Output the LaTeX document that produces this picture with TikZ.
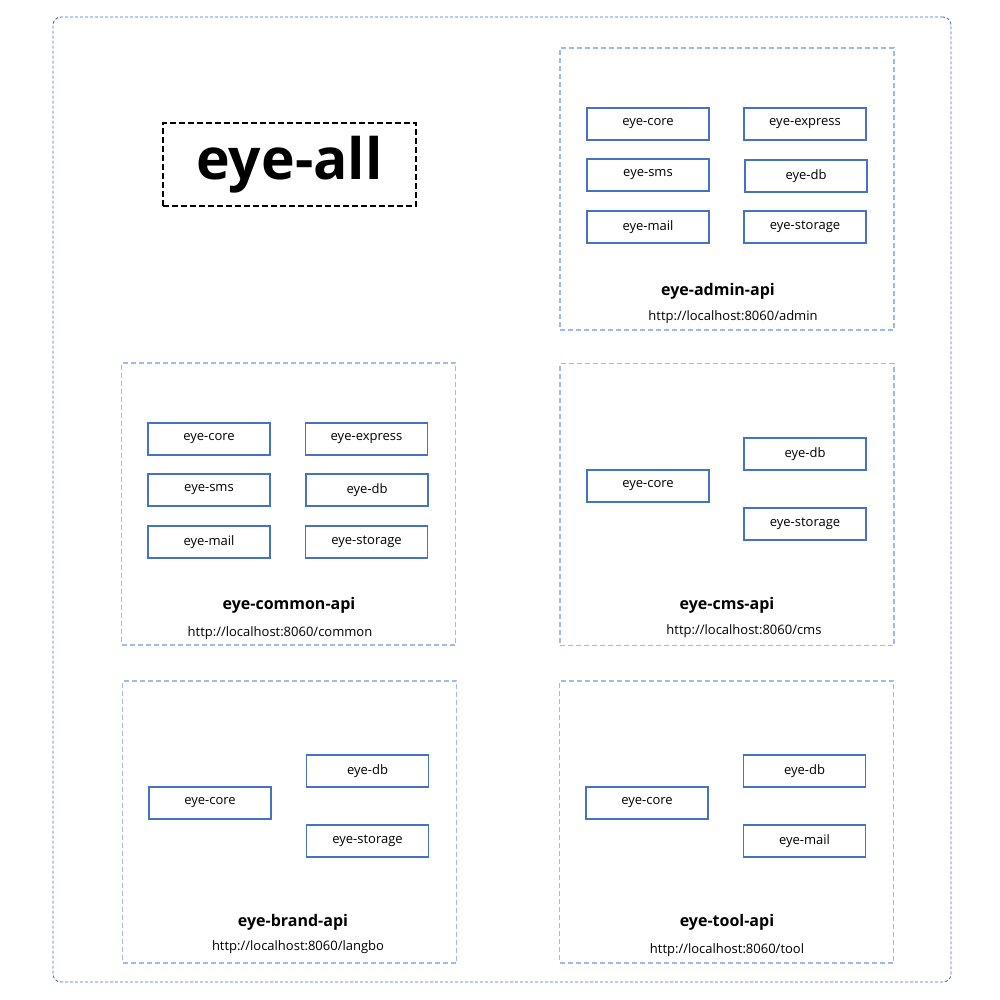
\documentclass[tikz,border=0pt]{standalone}
\usepackage{fontspec}
\setmainfont{Open Sans}
\usepackage{xcolor}
\definecolor{modblue}{HTML}{4472C4}
\definecolor{apiblue}{HTML}{9DBAEA}

\tikzset{
  mod/.style={draw=modblue,line width=1.6pt,minimum width=122pt,minimum height=32pt,inner sep=0pt,font=\fontsize{13}{15}\selectfont},
  api/.style={draw=apiblue,line width=1.4pt,dash pattern=on 5pt off 3pt,minimum width=334pt,minimum height=282pt,inner sep=0pt},
  apiname/.style={font=\fontsize{16}{19}\selectfont\bfseries},
  apiurl/.style={font=\fontsize{13}{15}\selectfont}
}

\begin{document}
\begin{tikzpicture}[x=1pt,y=-1pt]
    \useasboundingbox (0,0) rectangle (1000,1000);
    \node[draw=modblue,line width=0.9pt,dash pattern=on 3pt off 2pt,rounded corners=8pt,minimum width=898pt,minimum height=965pt,inner sep=0pt] (all) at (502,499.5) {};
    \node[draw,line width=1.5pt,dash pattern=on 6pt off 3pt,minimum width=253pt,minimum height=83pt,font=\fontsize{57}{60}\selectfont\bfseries] (title) at (289.5,164.5) {eye-all};

    \node[api] (admin) at (727,189) {};
    \node[mod] (adminCore) at (648,124) {eye-core};
    \node[mod] (adminExpress) at (805,124) {eye-express};
    \node[mod] (adminSms) at (648,175) {eye-sms};
    \node[mod] (adminDb) at (806,176) {eye-db};
    \node[mod] (adminMail) at (648,227) {eye-mail};
    \node[mod] (adminStorage) at (805,227) {eye-storage};
    \node[apiname] (adminName) at (718,291) {eye-admin-api};
    \node[apiurl] (adminUrl) at (733,317) {http://localhost:8060/admin};

    \node[api] (common) at (288.5,504) {};
    \node[mod] (commonCore) at (209,439) {eye-core};
    \node[mod] (commonExpress) at (366.5,439) {eye-express};
    \node[mod] (commonSms) at (209,490) {eye-sms};
    \node[mod] (commonDb) at (367,490) {eye-db};
    \node[mod] (commonMail) at (209,542) {eye-mail};
    \node[mod] (commonStorage) at (366.5,542) {eye-storage};
    \node[apiname] (commonName) at (289,605) {eye-common-api};
    \node[apiurl] (commonUrl) at (280,633) {http://localhost:8060/common};

    \node[api] (cms) at (727,504.5) {};
    \node[mod] (cmsCore) at (648,486) {eye-core};
    \node[mod] (cmsDb) at (805,454) {eye-db};
    \node[mod] (cmsStorage) at (805,524) {eye-storage};
    \node[apiname] (cmsName) at (727,605) {eye-cms-api};
    \node[apiurl] (cmsUrl) at (744,631) {http://localhost:8060/cms};

    \node[api] (brand) at (289.5,822) {};
    \node[mod] (brandCore) at (210,803) {eye-core};
    \node[mod] (brandDb) at (367.5,771) {eye-db};
    \node[mod] (brandStorage) at (367.5,841) {eye-storage};
    \node[apiname] (brandName) at (293,922) {eye-brand-api};
    \node[apiurl] (brandUrl) at (298,947) {http://localhost:8060/langbo};

    \node[api] (tool) at (726.5,822) {};
    \node[mod] (toolCore) at (647,803) {eye-core};
    \node[mod] (toolDb) at (804.5,771) {eye-db};
    \node[mod] (toolMail) at (804.5,841) {eye-mail};
    \node[apiname] (toolName) at (727,922) {eye-tool-api};
    \node[apiurl] (toolUrl) at (727,950) {http://localhost:8060/tool};
\end{tikzpicture}
\end{document}
